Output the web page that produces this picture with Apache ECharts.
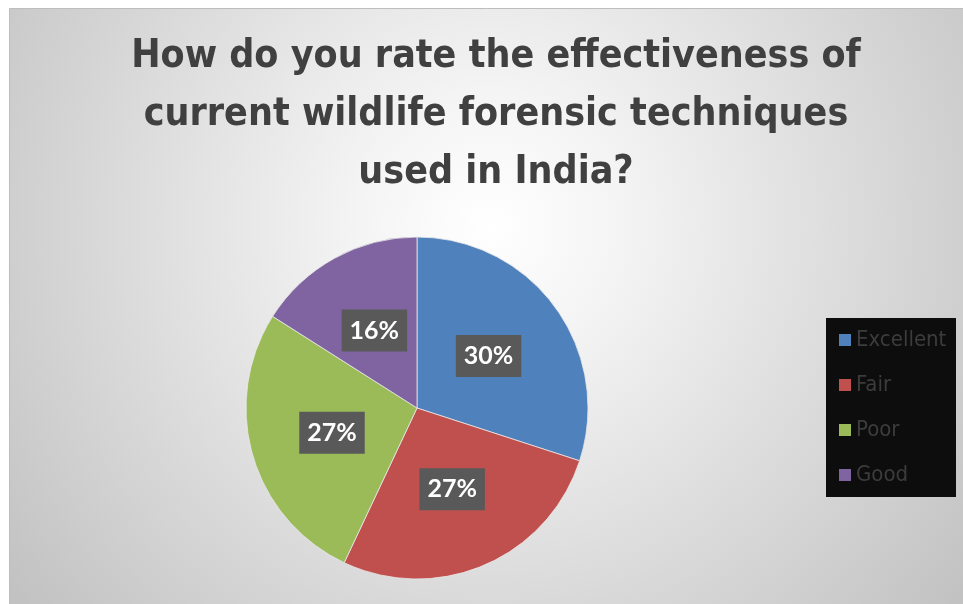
<!DOCTYPE html>
<html>
<head>
<meta charset="utf-8">
<style>
  html, body { margin: 0; padding: 0; background: #ffffff; }
  #chart { width: 963px; height: 604px; }
</style>
<script src="https://cdn.jsdelivr.net/npm/echarts@6/dist/echarts.min.js"></script>
</head>
<body>
<div id="chart"></div>
<script>
// Survey responses
const categories = ['Excellent', 'Fair', 'Poor', 'Good'];
const shares = [30, 27, 27, 16];
const sliceColors = ['#4f81bd', '#c0504d', '#9bbb59', '#8064a2'];
const titleLines = [
  'How do you rate the effectiveness of',
  'current wildlife forensic techniques',
  'used in India?'
];

const narrow = "'Liberation Sans Narrow', 'Arial Narrow', 'DejaVu Sans Condensed', sans-serif";

const chart = echarts.init(document.getElementById('chart'), null, { renderer: 'canvas' });

chart.setOption({
  backgroundColor: '#ffffff',
  animation: false,
  graphic: [{
    type: 'rect',
    z: -10,
    silent: true,
    shape: { x: 9.5, y: 8.5, width: 960, height: 600 },
    style: {
      fill: {
        type: 'radial', x: 0.5, y: 0.36, r: 1.0,
        colorStops: [
          { offset: 0, color: '#ffffff' },
          { offset: 0.22, color: '#f4f4f4' },
          { offset: 1, color: '#c2c2c2' }
        ]
      },
      stroke: '#bdbdbd',
      lineWidth: 1
    }
  }, {
    // legend panel
    type: 'rect',
    z: -5,
    silent: true,
    shape: { x: 826, y: 318, width: 130, height: 179 },
    style: { fill: '#0d0d0d' }
  }],
  title: {
    text: titleLines.join('\n'),
    left: 491,
    top: 23,
    textAlign: 'center',
    textStyle: {
      fontFamily: narrow,
      fontWeight: 'bold',
      fontSize: 39,
      lineHeight: 58,
      color: '#404040'
    }
  },
  legend: {
    orient: 'vertical',
    left: 826,
    top: 318,
    padding: [11, 10, 11, 13],
    itemWidth: 12,
    itemHeight: 12,
    itemGap: 23,
    icon: 'rect',
    itemStyle: { borderWidth: 0 },
    data: categories,
    textStyle: {
      fontFamily: narrow,
      fontSize: 22,
      color: '#3c3c3c',
      padding: [0, 0, 0, 0]
    }
  },
  series: [{
    type: 'pie',
    center: [417, 408],
    radius: 171,
    startAngle: 90,
    clockwise: true,
    avoidLabelOverlap: false,
    itemStyle: { borderColor: '#e8e8e8', borderWidth: 0.8 },
    label: {
      show: true,
      position: 'inside',
      formatter: '{d}%',
      backgroundColor: '#595959',
      color: '#ffffff',
      fontFamily: "Lato, 'Open Sans', sans-serif",
      fontWeight: 'bold',
      fontSize: 25,
      padding: [9, 8, 8, 8]
    },
    labelLine: { show: false },
    data: categories.map((name, i) => ({
      name: name,
      value: shares[i],
      itemStyle: { color: sliceColors[i] }
    }))
  }]
});
</script>
</body>
</html>
